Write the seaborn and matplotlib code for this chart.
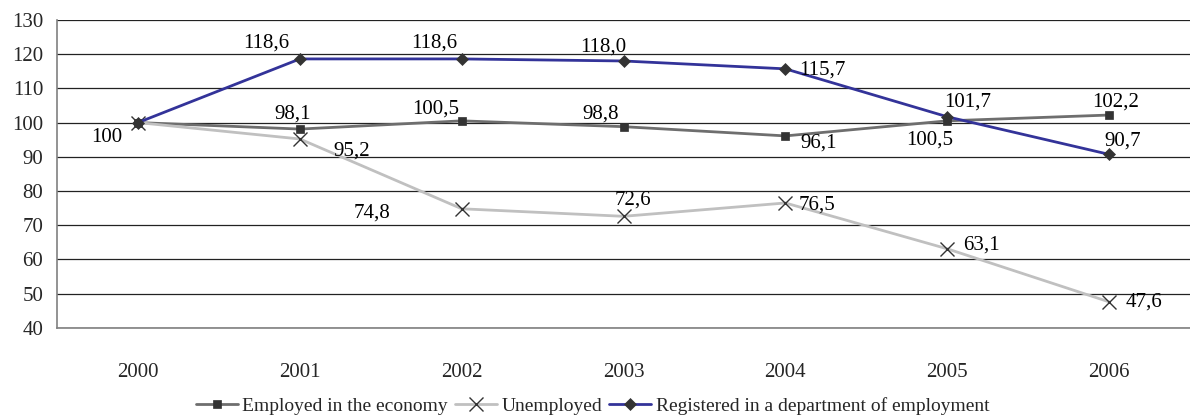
import matplotlib
matplotlib.use("Agg")
import matplotlib.pyplot as plt
import seaborn as sns
import pandas as pd
import numpy as np

years = ["2000", "2001", "2002", "2003", "2004", "2005", "2006"]
employed = [100, 98.1, 100.5, 98.8, 96.1, 100.5, 102.2]
unemployed = [100, 95.2, 74.8, 72.6, 76.5, 63.1, 47.6]
registered = [100, 118.6, 118.6, 118.0, 115.7, 101.7, 90.7]
series_names = ["Employed in the economy", "Unemployed",
                "Registered in a department of employment"]

# label offsets in pixels (dx, dy up-positive); None = no label
emp_off = [(-31, -15), (-7, 15), (-26, 12), (-23, 13), (33, -7), (-18, -19), (7, 13)]
unemp_off = [None, (52, -12), (-90, -4), (9, 16), (32, -2), (34, 4), (35, 0)]
reg_off = [None, (-34, 16), (-27, 16), (-20, 14), (37, -1), (20, 15), (14, 13)]

sns.set_theme(style="white")
plt.rcParams['font.family'] = ['Liberation Serif', 'DejaVu Serif']

FS = 15

df = pd.DataFrame({
    "x": list(range(len(years))) * 3,
    "value": employed + unemployed + registered,
    "series": [series_names[0]] * 7 + [series_names[1]] * 7 + [series_names[2]] * 7,
})

fig = plt.figure(figsize=(11.9, 4.15), dpi=100)
ax = fig.add_axes([0.048, 0.21, 0.952, 0.742])

line_colors = ["#6e6e6e", "#c0c0c0", "#333399"]
marker_list = ["s", "x", "D"]
msizes = [6, 10, 6]

for name, col, mk, ms in zip(series_names, line_colors, marker_list, msizes):
    sub = df[df["series"] == name]
    sns.lineplot(data=sub, x="x", y="value", ax=ax, color=col, linewidth=2.0,
                 marker=mk, markersize=ms, markerfacecolor="#333333",
                 markeredgecolor="#333333", markeredgewidth=1.0 if mk == "x" else 0.5,
                 label=name, zorder=3)

for vals, offs in [(employed, emp_off), (unemployed, unemp_off), (registered, reg_off)]:
    for i, (v, off) in enumerate(zip(vals, offs)):
        if off is None:
            continue
        txt = "100" if i == 0 else ("%.1f" % v).replace(".", ",")
        ax.annotate(txt, (i, v), xytext=off, textcoords="offset pixels",
                    ha="center", va="center", fontsize=FS, color="black", zorder=4)

ax.set_xlim(-0.5, 6.5)
ax.set_ylim(40, 130)
ax.set_yticks(np.arange(40, 131, 10))
ax.yaxis.grid(True, color="#222222", linewidth=0.9)
ax.set_axisbelow(True)

ax.set_xticks(np.arange(-0.5, 6.6, 1.0))
ax.set_xticklabels([])
ax.set_xticks(np.arange(len(years)), minor=True)
ax.set_xticklabels(years, minor=True)
ax.tick_params(axis="x", which="major", direction="out", length=5, color="#808080", width=1)
ax.tick_params(axis="x", which="minor", length=0, pad=25, labelsize=FS)
ax.tick_params(axis="y", direction="out", length=5, color="#808080", width=1, labelsize=FS, pad=5)
ax.set_xlabel("")
ax.set_ylabel("")

for s in ["top", "right"]:
    ax.spines[s].set_visible(False)
for s in ["left", "bottom"]:
    ax.spines[s].set_color("#808080")
    ax.spines[s].set_linewidth(1.2)

ax.get_legend().remove()
handles, labels = ax.get_legend_handles_labels()
fig.legend(handles, labels, loc="center", bbox_to_anchor=(0.498, 0.022), ncol=3,
           frameon=False, fontsize=14, handlelength=2.15, handletextpad=0.25,
           columnspacing=0.35, borderaxespad=0)

fig.savefig("out.png", dpi=100)
